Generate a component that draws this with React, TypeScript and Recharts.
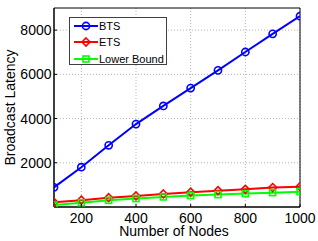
import React from "react";
import {
  LineChart,
  Line,
  XAxis,
  YAxis,
  CartesianGrid,
  Legend,
  ReferenceArea,
} from "recharts";

const nodes = [100, 200, 300, 400, 500, 600, 700, 800, 900, 1000];
const btsValues = [890, 1800, 2790, 3750, 4570, 5380, 6180, 7010, 7830, 8630];
const etsValues = [210, 310, 420, 500, 590, 670, 740, 800, 880, 920];
const lowerBoundValues = [90, 195, 300, 380, 455, 515, 560, 605, 650, 695];

const xTicks = [200, 400, 600, 800, 1000];
const yTicks = [2000, 4000, 6000, 8000];

const seriesNames = ["BTS", "ETS", "Lower Bound"];
const seriesColors = ["#0000ff", "#ff0000", "#00ff00"];
const seriesKeys = ["bts", "ets", "lower"];

const data = nodes.map((n, i) => ({
  n,
  bts: btsValues[i],
  ets: etsValues[i],
  lower: lowerBoundValues[i],
}));

const FONT = "'Liberation Sans', Arial, Helvetica, sans-serif";

const CircleDot = (props: any) => {
  const { cx, cy, stroke } = props;
  if (cx == null || cy == null) return null;
  return <circle cx={cx} cy={cy} r={3.6} fill="none" stroke={stroke} strokeWidth={1.6} />;
};
const DiamondDot = (props: any) => {
  const { cx, cy, stroke } = props;
  if (cx == null || cy == null) return null;
  const s = 4;
  return (
    <polygon
      points={`${cx},${cy - s} ${cx + s},${cy} ${cx},${cy + s} ${cx - s},${cy}`}
      fill="none"
      stroke={stroke}
      strokeWidth={1.6}
    />
  );
};
const SquareDot = (props: any) => {
  const { cx, cy, stroke } = props;
  if (cx == null || cy == null) return null;
  const s = 3;
  return (
    <rect x={cx - s} y={cy - s} width={2 * s} height={2 * s} fill="none" stroke={stroke} strokeWidth={1.6} />
  );
};
const dotRenderers = [CircleDot, DiamondDot, SquareDot];

const XTick = (props: any) => {
  const { x, y, payload } = props;
  return (
    <g>
      <line x1={x} x2={x} y1={y} y2={y - 3} stroke="#000" strokeWidth={1} />
      <text x={x} y={y + 16} textAnchor="middle" fontFamily={FONT} fontSize={14} fill="#000">
        {payload.value}
      </text>
    </g>
  );
};

const YTick = (props: any) => {
  const { x, y, payload } = props;
  return (
    <g>
      <line x1={x} x2={x + 3} y1={y} y2={y} stroke="#000" strokeWidth={1} />
      <text x={x - 2.5} y={y + 5} textAnchor="end" fontFamily={FONT} fontSize={14} fill="#000">
        {payload.value}
      </text>
    </g>
  );
};

const LegendContent = () => (
  <div
    style={{
      width: 98,
      height: 48,
      boxSizing: "border-box",
      border: "1px solid #404040",
      background: "#fff",
      position: "relative",
      fontFamily: FONT,
      fontSize: 11,
    }}
  >
    {seriesNames.map((name, i) => {
      const cy = 8 + i * 16.3;
      const Dot = dotRenderers[i];
      return (
        <div key={name} style={{ position: "absolute", left: 0, top: cy - 8, height: 16, width: 96 }}>
          <svg width={28} height={16} style={{ position: "absolute", left: 3, top: 0 }}>
            <line x1={1} x2={25} y1={8} y2={8} stroke={seriesColors[i]} strokeWidth={2} />
            <Dot cx={13} cy={8} stroke={seriesColors[i]} />
          </svg>
          <span style={{ position: "absolute", left: 29, top: 1, lineHeight: "14px", color: "#000" }}>{name}</span>
        </div>
      );
    })}
  </div>
);

export default function App() {
  return (
    <div style={{ position: "absolute", left: 0, top: 0, width: 318, height: 241, background: "#fff" }}>
      <LineChart width={318} height={241} data={data} margin={{ top: 8, right: 18, left: 0, bottom: 0 }}>
        <CartesianGrid stroke="#b4b4b4" strokeDasharray="1 2" horizontalValues={yTicks} verticalValues={xTicks} />
        <XAxis
          dataKey="n"
          type="number"
          domain={[100, 1000]}
          ticks={xTicks}
          height={34}
          axisLine={{ stroke: "#000" }}
          tickLine={false}
          tickSize={0}
          tickMargin={0}
          tick={<XTick />}
          interval={0}
          allowDataOverflow
        />
        <YAxis
          type="number"
          domain={[0, 9000]}
          ticks={yTicks}
          width={54}
          axisLine={{ stroke: "#000" }}
          tickLine={false}
          tickSize={0}
          tickMargin={0}
          tick={<YTick />}
          interval={0}
          allowDataOverflow
        />
        <ReferenceArea x1={100} x2={1000} y1={0} y2={9000} fill="none" stroke="#000" strokeWidth={1} ifOverflow="visible" />
        {seriesKeys.map((k, i) => (
          <Line
            key={k}
            dataKey={k}
            name={seriesNames[i]}
            stroke={seriesColors[i]}
            strokeWidth={2}
            dot={dotRenderers[i]}
            activeDot={false}
            isAnimationActive={false}
          />
        ))}
        <Legend
          layout="horizontal"
          verticalAlign="middle"
          align="center"
          content={<LegendContent />}
          wrapperStyle={{ position: "absolute", left: 69, top: 17, width: 98, height: 48 }}
        />
        <text x={174} y={236} textAnchor="middle" fontFamily={FONT} fontSize={14} fill="#000">
          Number of Nodes
        </text>
        <text
          x={15}
          y={107.5}
          transform="rotate(-90 15 107.5)"
          textAnchor="middle"
          fontFamily={FONT}
          fontSize={14}
          fill="#000"
        >
          Broadcast Latency
        </text>
      </LineChart>
    </div>
  );
}
